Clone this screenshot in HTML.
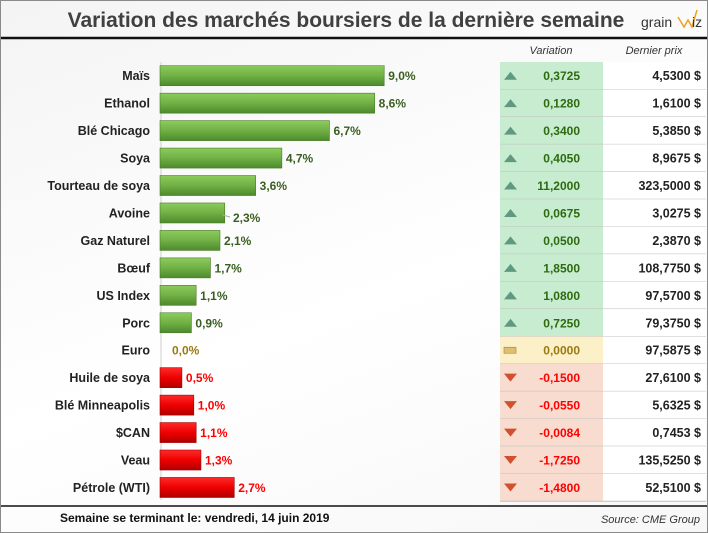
<!DOCTYPE html>
<html><head><meta charset="utf-8">
<style>
body{margin:0;width:708px;height:533px;overflow:hidden;background:#fff;font-family:"Liberation Sans",sans-serif;}
#frame{position:absolute;left:0;top:0;width:706px;height:531px;border:1px solid #8a8a8a;background:linear-gradient(160deg,#f4f4f4 0%,#ffffff 55%,#f7f7f7 100%);}
svg{position:absolute;left:0;top:0}
</style></head><body>
<div id="frame"></div>
<svg id="chart" width="708" height="533">
<defs>
<linearGradient id="gG" x1="0" y1="0" x2="0" y2="1"><stop offset="0" stop-color="#8ccc5c"/><stop offset="0.5" stop-color="#70b045"/><stop offset="1" stop-color="#4d8a2c"/></linearGradient>
<linearGradient id="gR" x1="0" y1="0" x2="0" y2="1"><stop offset="0" stop-color="#ff2a2a"/><stop offset="0.5" stop-color="#ee0000"/><stop offset="1" stop-color="#b00000"/></linearGradient>
</defs>
<text x="346" y="27" text-anchor="middle" font-size="21" font-weight="bold" fill="#404040">Variation des marchés boursiers de la dernière semaine</text>
<g>
<text x="641" y="27" font-size="14" fill="#333">grain</text>
<polyline points="678,17 684,27 688,20 692,27 697,10" fill="none" stroke="#f0a020" stroke-width="1.5"/>
<text x="692" y="27" font-size="14" fill="#333">iz</text>
</g>
<line x1="1" y1="38" x2="707" y2="38" stroke="#111" stroke-width="2.5"/>
<text x="551" y="54" text-anchor="middle" font-size="11" font-style="italic" fill="#333">Variation</text>
<text x="654" y="54" text-anchor="middle" font-size="11" font-style="italic" fill="#333">Dernier prix</text>
<line x1="161" y1="62" x2="161" y2="500" stroke="#cfcfcf" stroke-width="1"/>
<g id="rows"></g>
<line x1="1" y1="506" x2="707" y2="506" stroke="#111" stroke-width="1.5"/>
<text x="60" y="522" font-size="12" font-weight="bold" fill="#111">Semaine se terminant le:  vendredi, 14 juin 2019</text>
<text x="700" y="523" text-anchor="end" font-size="11" font-style="italic" fill="#333">Source: CME Group</text>
</svg>
<script>
const categories=["Maïs","Ethanol","Blé Chicago","Soya","Tourteau de soya","Avoine","Gaz Naturel","Bœuf","US Index","Porc","Euro","Huile de soya","Blé Minneapolis","$CAN","Veau","Pétrole (WTI)"];
const pctValues=[9.0,8.6,6.7,4.7,3.6,2.3,2.1,1.7,1.1,0.9,0.0,-0.5,-1.0,-1.1,-1.3,-2.7];
const variationValues=["0,3725","0,1280","0,3400","0,4050","11,2000","0,0675","0,0500","1,8500","1,0800","0,7250","0,0000","-0,1500","-0,0550","-0,0084","-1,7250","-1,4800"];
const priceValues=["4,5300 $","1,6100 $","5,3850 $","8,9675 $","323,5000 $","3,0275 $","2,3870 $","108,7750 $","97,5700 $","79,3750 $","97,5875 $","27,6100 $","5,6325 $","0,7453 $","135,5250 $","52,5100 $"];
const NS="http://www.w3.org/2000/svg";
const g=document.getElementById('rows');
const x0=160, rowTop=62, rowH=27.45;
function xw(v){return v===0?0:10+Math.abs(v)*23.8;}
function mk(tag,attrs,txt){const e=document.createElementNS(NS,tag);for(const k in attrs)e.setAttribute(k,attrs[k]);if(txt!==undefined)e.textContent=txt;return e;}
categories.forEach((c,i)=>{
  const v=pctValues[i], y=rowTop+i*rowH, cy=y+rowH/2;
  const pos=v>0, zero=v===0;
  const fill=zero?"#fbf0c8":(pos?"#c8ecd0":"#f8dccf");
  const r=mk('rect',{x:500,y:y,width:103,height:rowH,fill:fill});
  
  
  g.appendChild(r);
  const r2=mk('rect',{x:603,y:y,width:103,height:rowH,fill:"#fff"});
  
  
  g.appendChild(r2);
  const ln=mk('line',{x1:500,y1:y+rowH,x2:706,y2:y+rowH,stroke:"#c0c0c0","stroke-width":1});
  
  
  g.appendChild(ln);
  const lab=mk('text',{x:150,y:cy+4.5,"text-anchor":"end","font-size":"12.5","font-weight":"bold",fill:"#222"},c);
  
  
  g.appendChild(lab);
  const w=xw(v);
  if(w>0){
    const b=mk('rect',{x:x0,y:cy-10,width:w,height:20,fill:pos?"url(#gG)":"url(#gR)",stroke:pos?"#4a7a2a":"#a00000","stroke-width":0.6});
    
    
    g.appendChild(b);
  }
  const col=zero?"#9a7a10":(pos?"#3a5e20":"#ff0000");
  let lx=x0+w+4;
  if(c==="Avoine"){lx=233;const l=mk('line',{x1:x0+w-2,y1:cy+2,x2:lx-3,y2:cy+4,stroke:"#aaa"});g.appendChild(l);}
  if(zero)lx=172;
  const vl=mk('text',{x:lx,y:cy+(c==="Avoine"?9:4.5),"font-size":"12","font-weight":"bold",fill:col},Math.abs(v).toFixed(1).replace('.',',')+"%");
  
  
  g.appendChild(vl);
  let ic;
  if(zero) ic=mk('rect',{x:504,y:cy-3,width:12,height:6,fill:"#e0c070",stroke:"#a08040","stroke-width":0.6});
  else if(pos) ic=mk('polygon',{points:`504,${cy+4} 517,${cy+4} 510.5,${cy-4}`,fill:"#5f9a80"});
  else ic=mk('polygon',{points:`504,${cy-4} 517,${cy-4} 510.5,${cy+4}`,fill:"#d05030"});
  
  
  g.appendChild(ic);
  const vt=mk('text',{x:580,y:cy+4.5,"text-anchor":"end","font-size":"12","font-weight":"bold",fill:zero?"#9a7a10":(pos?"#2e6a10":"#ff0000")},variationValues[i]);
  
  
  g.appendChild(vt);
  const pt=mk('text',{x:701,y:cy+4.5,"text-anchor":"end","font-size":"12.5","font-weight":"bold",fill:"#222"},priceValues[i]);
  
  
  g.appendChild(pt);
});
</script>
</body></html>
